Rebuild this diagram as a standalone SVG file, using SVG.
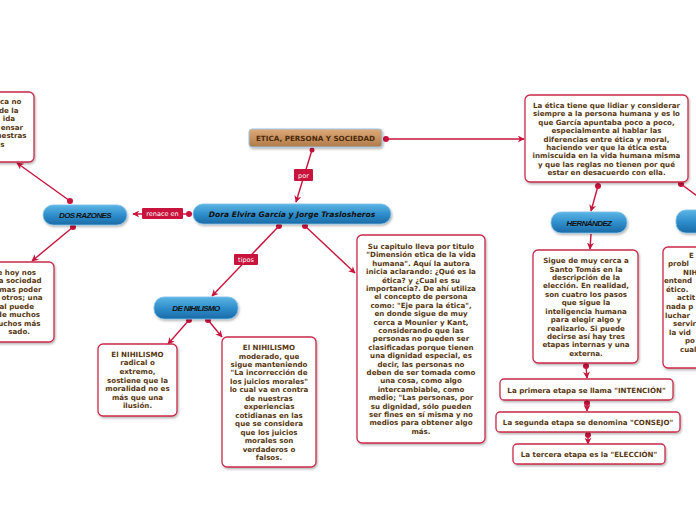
<svg xmlns="http://www.w3.org/2000/svg" width="696" height="520" viewBox="0 0 696 520">
<defs>
<linearGradient id="blue" x1="0" y1="0" x2="0" y2="1">
<stop offset="0" stop-color="#5cb4e4"/>
<stop offset="0.5" stop-color="#2f8fcc"/>
<stop offset="1" stop-color="#1a6aa6"/>
</linearGradient>
<linearGradient id="brown" x1="0" y1="0" x2="0" y2="1">
<stop offset="0" stop-color="#deaa78"/>
<stop offset="1" stop-color="#b07a48"/>
</linearGradient>
<filter id="sh" x="-10%" y="-10%" width="130%" height="130%">
<feDropShadow dx="1" dy="1.5" stdDeviation="1" flood-color="#000" flood-opacity="0.3"/>
</filter>
<marker id="arr" viewBox="0 0 10 10" refX="9" refY="5" markerWidth="7" markerHeight="7" markerUnits="userSpaceOnUse" orient="auto">
<path d="M0,0 L10,5 L0,10 L3,5 z" fill="#c8143c"/>
</marker>
</defs>
<style>
.box{fill:#fff;stroke:#c92a4a;stroke-width:1.3;filter:url(#sh)}
.pill{fill:url(#blue);stroke:#7fc0e8;stroke-width:0.8;filter:url(#sh)}
.t{font-family:"DejaVu Sans",Verdana,sans-serif;font-weight:bold;font-size:7.1px;fill:#573710;text-anchor:middle}
.ts{font-family:"DejaVu Sans",Verdana,sans-serif;font-weight:bold;font-size:7.1px;fill:#573710}
.pt{font-family:"Liberation Sans",Arial,sans-serif;font-weight:bold;font-style:italic;font-size:8px;fill:#111;text-anchor:middle;letter-spacing:-0.6px}
.c{stroke:#c8143c;stroke-width:1.4;fill:none}
.d{fill:#c8143c}
.lb{fill:#c8143c}
.lt{font-family:"DejaVu Sans",Verdana,sans-serif;font-size:6.5px;fill:#fff;text-anchor:middle}
</style>

<g id="connectors">
<path class="c" d="M312,150 L296,202" marker-end="url(#arr)"/>
<circle class="d" cx="312" cy="150" r="2.5"/>
<path class="c" d="M189,214 L133,214" marker-end="url(#arr)"/>
<circle class="d" cx="189" cy="214" r="3"/>
<path class="c" d="M70,201 L17,163" marker-end="url(#arr)"/>
<circle class="d" cx="70" cy="201" r="3"/>
<path class="c" d="M73,227 L32,261" marker-end="url(#arr)"/>
<circle class="d" cx="73" cy="227" r="3"/>
<path class="c" d="M279,226 L212,296" marker-end="url(#arr)"/>
<circle class="d" cx="279" cy="226" r="3"/>
<path class="c" d="M305,226 L355,273" marker-end="url(#arr)"/>
<circle class="d" cx="305" cy="226" r="3"/>
<path class="c" d="M189,320 L168,344" marker-end="url(#arr)"/>
<circle class="d" cx="189" cy="320" r="3"/>
<path class="c" d="M208,320 L222,337" marker-end="url(#arr)"/>
<circle class="d" cx="208" cy="320" r="3"/>
<path class="c" d="M386,139 L524,139" marker-end="url(#arr)"/>
<circle class="d" cx="386" cy="139" r="3"/>
<path class="c" d="M598,186 L591,211" marker-end="url(#arr)"/>
<circle class="d" cx="598" cy="186" r="3"/>
<path class="c" d="M681,184 L700,198"/>
<circle class="d" cx="681" cy="184" r="3"/>
<path class="c" d="M591,234 L590,249" marker-end="url(#arr)"/>
<path class="c" d="M586,366 L587,378" marker-end="url(#arr)"/>
<circle class="d" cx="586" cy="366" r="3"/>
<path class="c" d="M587,403 L587,411" marker-end="url(#arr)"/>
<circle class="d" cx="587" cy="403" r="3"/>
<path class="c" d="M588,435 L588,444" marker-end="url(#arr)"/>
<circle class="d" cx="588" cy="435" r="3"/>
<rect class="lb" x="294" y="169" width="19" height="12" rx="1"/>
<text class="lt" x="303.5" y="177.5">por</text>
<rect class="lb" x="142" y="208" width="41" height="11" rx="1"/>
<text class="lt" x="162.5" y="216">renace en</text>
<rect class="lb" x="234" y="254" width="24" height="11" rx="1"/>
<text class="lt" x="246" y="262">tipos</text>
</g>

<g id="root">
<rect x="249" y="129" width="133" height="18" rx="3" fill="url(#brown)" stroke="#9cc4e8" stroke-width="1" filter="url(#sh)"/>
<text x="315.5" y="140.5" font-family="DejaVu Sans,Verdana,sans-serif" font-weight="bold" font-size="7.2px" fill="#4a2a0a" text-anchor="middle">ETICA, PERSONA Y SOCIEDAD</text>
</g>

<g id="autores">
<rect class="pill" x="193" y="204" width="198" height="20" rx="10"/>
<text x="292" y="217" font-family="DejaVu Sans,Verdana,sans-serif" font-weight="bold" font-style="italic" font-size="7.6px" fill="#111" text-anchor="middle">Dora Elvira García y Jorge Traslosheros</text>
</g>

<g id="dos-razones">
<rect class="pill" x="43" y="205" width="84" height="20" rx="10"/>
<text class="pt" x="85" y="218">DOS RAZONES</text>
</g>

<g id="razon-1">
<rect class="box" x="-20" y="92" width="54" height="70" rx="5"/>
<text class="ts" text-anchor="end"><tspan x="21.5" y="104">ca no</tspan><tspan x="18.5" y="112.5">de la</tspan><tspan x="15" y="121">ida</tspan><tspan x="23" y="129.5">ensar</tspan><tspan x="26.5" y="138">uestras</tspan><tspan x="4.5" y="146.5">s</tspan></text>
</g>

<g id="razon-2">
<rect class="box" x="-20" y="262" width="74" height="80" rx="5"/>
<text class="ts" text-anchor="end"><tspan x="36" y="274.5">e hoy nos</tspan><tspan x="41.5" y="283">a sociedad</tspan><tspan x="41.5" y="291.5">mas poder</tspan><tspan x="42.5" y="300">otros; una</tspan><tspan x="34" y="308.5">al puede</tspan><tspan x="40" y="317">de muchos</tspan><tspan x="40.5" y="325.5">uchos más</tspan><tspan x="30" y="334">sado.</tspan></text>
</g>

<g id="de-nihilismo">
<rect class="pill" x="154" y="297" width="84" height="22" rx="10"/>
<text class="pt" x="196" y="311">DE NIHILISMO</text>
</g>

<g id="nihilismo-radical">
<rect class="box" x="98" y="344" width="79" height="72" rx="5"/>
<text class="t"><tspan x="137.5" y="356.5">El NIHILISMO</tspan><tspan x="137.5" y="365">radical o</tspan><tspan x="137.5" y="373.5">extremo,</tspan><tspan x="137.5" y="382.5">sostiene que la</tspan><tspan x="137.5" y="391">moralidad no es</tspan><tspan x="137.5" y="399.5">más que una</tspan><tspan x="137.5" y="408">ilusión.</tspan></text>
</g>

<g id="nihilismo-moderado">
<rect class="box" x="222" y="337" width="94" height="130" rx="5"/>
<text class="t"><tspan x="269" y="350">El NIHILISMO</tspan><tspan x="269" y="358.5">moderado, que</tspan><tspan x="269" y="367">sigue manteniendo</tspan><tspan x="269" y="375.3">"La incorrección de</tspan><tspan x="269" y="383.8">los juicios morales"</tspan><tspan x="269" y="392.3">lo cual va en contra</tspan><tspan x="269" y="400.8">de nuestras</tspan><tspan x="269" y="409">experiencias</tspan><tspan x="269" y="417.5">cotidianas en las</tspan><tspan x="269" y="426">que se considera</tspan><tspan x="269" y="434.5">que los juicios</tspan><tspan x="269" y="443">morales son</tspan><tspan x="269" y="451.5">verdaderos o</tspan><tspan x="269" y="460">falsos.</tspan></text>
</g>

<g id="capitulo">
<rect class="box" x="357" y="235" width="128" height="208" rx="5"/>
<text class="t"><tspan x="421" y="249">Su capitulo lleva por titulo</tspan><tspan x="421" y="257.4">"Dimensión etica de la vida</tspan><tspan x="421" y="265.8">humana". Aquí la autora</tspan><tspan x="421" y="274.2">inicia aclarando: ¿Qué es la</tspan><tspan x="421" y="282.6">ética? y ¿Cual es su</tspan><tspan x="421" y="291">importancia?. De ahí utiliza</tspan><tspan x="421" y="299.4">el concepto de persona</tspan><tspan x="421" y="307.8">como: "Eje para la ética",</tspan><tspan x="421" y="316.2">en donde sigue de muy</tspan><tspan x="421" y="324.6">cerca a Mounier y Kant,</tspan><tspan x="421" y="333">considerando que las</tspan><tspan x="421" y="341.4">personas no pueden ser</tspan><tspan x="421" y="349.8">clasificadas porque tienen</tspan><tspan x="421" y="358.2">una dignidad especial, es</tspan><tspan x="421" y="366.6">decir, las personas no</tspan><tspan x="421" y="375">deben de ser tomada como</tspan><tspan x="421" y="383.4">una cosa, como algo</tspan><tspan x="421" y="391.8">intercambiable, como</tspan><tspan x="421" y="400.2">medio; "Las personas, por</tspan><tspan x="421" y="408.6">su dignidad, sólo pueden</tspan><tspan x="421" y="417">ser fines en sí misma y no</tspan><tspan x="421" y="425.4">medios para obtener algo</tspan><tspan x="421" y="433.8">más.</tspan></text>
</g>

<g id="etica-texto">
<rect class="box" x="525" y="95" width="163" height="87" rx="5"/>
<text class="t"><tspan x="606.5" y="108">La ética tiene que lidiar y considerar</tspan><tspan x="606.5" y="116.4">siempre a la persona humana y es lo</tspan><tspan x="606.5" y="124.8">que García apuntaba poco a poco,</tspan><tspan x="606.5" y="133.2">especialmente al hablar las</tspan><tspan x="606.5" y="141.6">diferencias entre ética y moral,</tspan><tspan x="606.5" y="150">haciendo ver que la ética esta</tspan><tspan x="606.5" y="158.4">inmiscuida en la vida humana misma</tspan><tspan x="606.5" y="166.8">y que las reglas no tienen por qué</tspan><tspan x="606.5" y="175.2">estar en desacuerdo con ella.</tspan></text>
</g>

<g id="hernandez">
<rect class="pill" x="551" y="212" width="76" height="21" rx="10"/>
<text class="pt" x="589" y="225.5">HERNÁNDEZ</text>
</g>

<g id="hernandez-texto">
<rect class="box" x="533" y="250" width="105" height="113" rx="5"/>
<text class="t"><tspan x="586" y="263">Sigue de muy cerca a</tspan><tspan x="586" y="271.5">Santo Tomás en la</tspan><tspan x="586" y="280">descripción de la</tspan><tspan x="586" y="288.3">elección. En realidad,</tspan><tspan x="586" y="296.8">son cuatro los pasos</tspan><tspan x="586" y="305.2">que sigue la</tspan><tspan x="586" y="313.6">inteligencia humana</tspan><tspan x="586" y="322">para elegir algo y</tspan><tspan x="586" y="330.5">realizarlo. Si puede</tspan><tspan x="586" y="339">decirse así hay tres</tspan><tspan x="586" y="347.3">etapas internas y una</tspan><tspan x="586" y="355.8">externa.</tspan></text>
</g>

<g id="etapa-1">
<rect class="box" x="500" y="379" width="173" height="21" rx="4"/>
<text class="t" x="586.5" y="392.5">La primera etapa se llama "INTENCIÓN"</text>
</g>

<g id="etapa-2">
<rect class="box" x="496" y="412" width="184" height="20" rx="4"/>
<text class="t" x="588" y="424.5">La segunda etapa se denomina "CONSEJO"</text>
</g>

<g id="etapa-3">
<rect class="box" x="513" y="444" width="152" height="20" rx="4"/>
<text class="t" x="589" y="456.5">La tercera etapa es la "ELECCIÓN"</text>
</g>

<g id="nodo-derecho">
<rect class="pill" x="676" y="210" width="60" height="23" rx="10"/>
</g>

<g id="texto-derecho">
<rect class="box" x="663" y="247" width="60" height="121" rx="5"/>
<text class="ts"><tspan x="689" y="257.5">E</tspan><tspan x="668" y="266">probl</tspan><tspan x="683" y="274.6">NIH</tspan><tspan x="664" y="283.2">entend</tspan><tspan x="666" y="291.8">ético.</tspan><tspan x="677" y="300.4">actit</tspan><tspan x="666" y="309">nada p</tspan><tspan x="665" y="317.6">luchar</tspan><tspan x="673" y="326.2">servir</tspan><tspan x="669" y="334.8">la vid</tspan><tspan x="685" y="343.4">po</tspan><tspan x="680" y="352">cual</tspan></text>
</g>
</svg>
